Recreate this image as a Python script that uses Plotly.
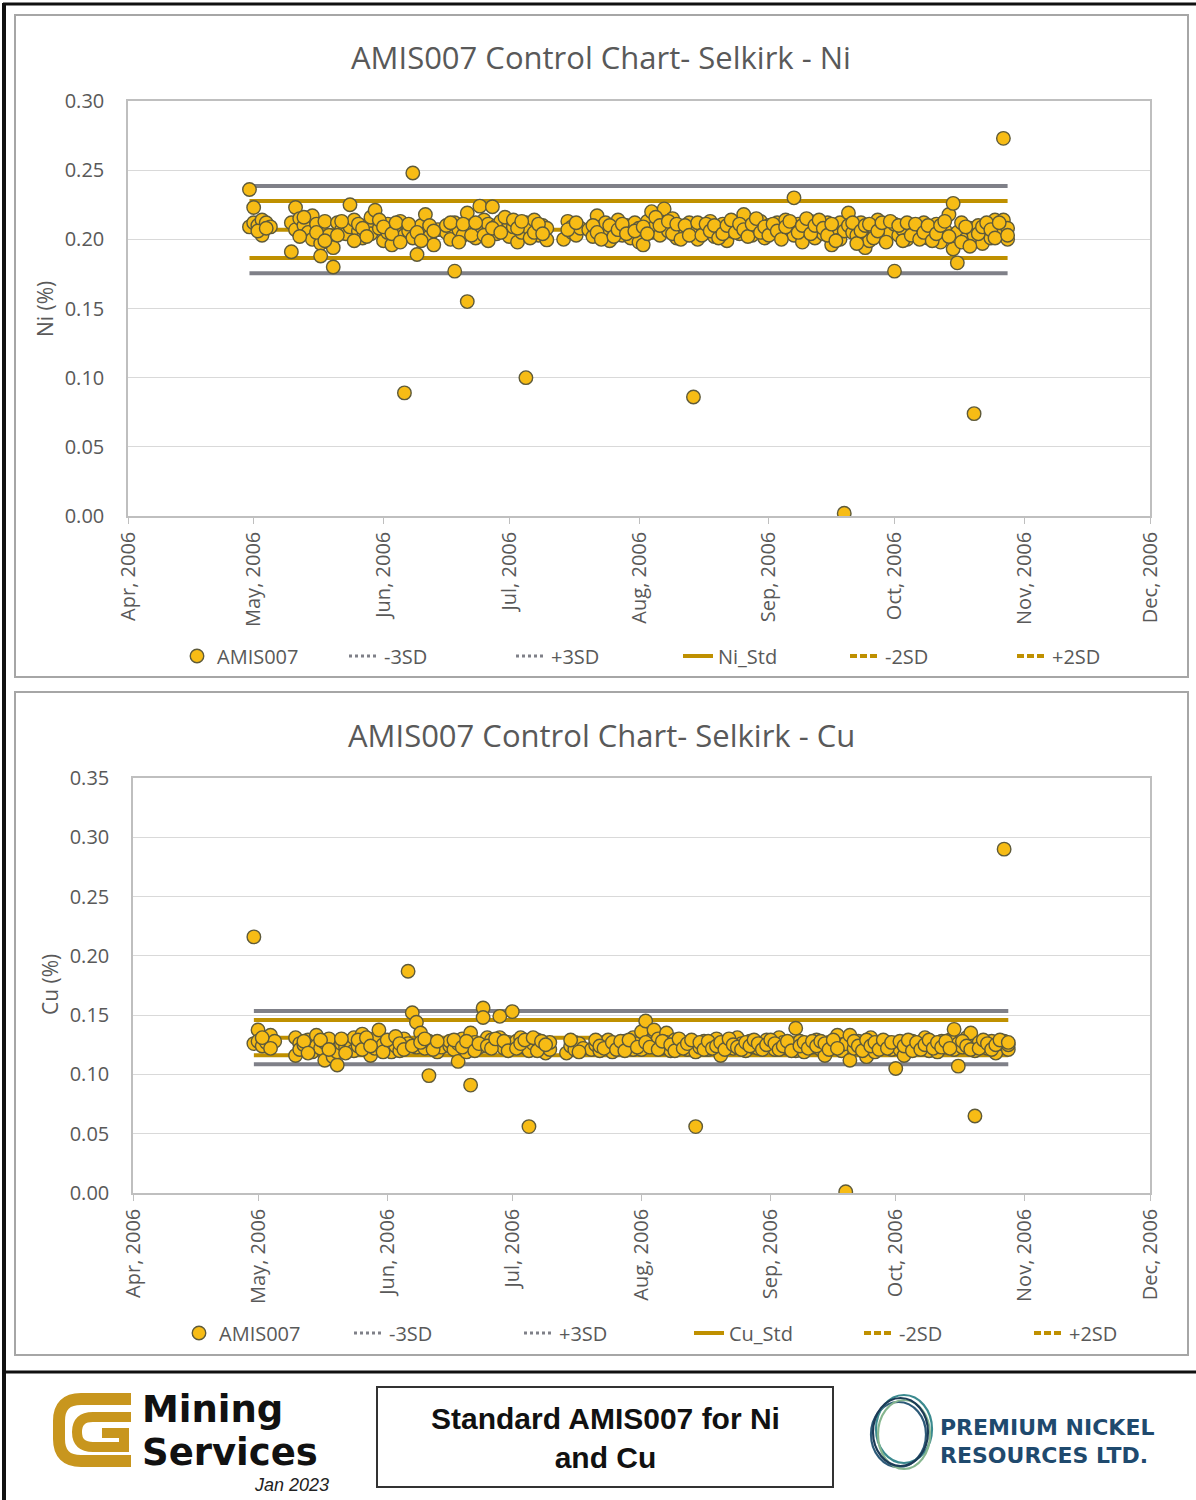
import plotly.graph_objects as go

FIG_W, FIG_H = 1196, 1500

# ---------------------------------------------------------------------------
# AMIS007 reference-standard results, Selkirk (2006)
# ---------------------------------------------------------------------------
sample_dates = [
    "2006-04-30", "2006-04-30",
    "2006-05-01", "2006-05-01", "2006-05-02", "2006-05-03", "2006-05-03", "2006-05-04", "2006-05-05",
    "2006-05-10", "2006-05-10", "2006-05-11", "2006-05-11", "2006-05-12", "2006-05-13", "2006-05-14",
    "2006-05-15", "2006-05-15", "2006-05-16", "2006-05-17", "2006-05-17", "2006-05-18", "2006-05-19",
    "2006-05-20", "2006-05-20", "2006-05-21", "2006-05-22", "2006-05-23", "2006-05-24", "2006-05-24",
    "2006-05-25", "2006-05-26", "2006-05-27", "2006-05-28", "2006-05-29", "2006-05-29", "2006-05-30",
    "2006-05-31",
    "2006-06-01", "2006-06-02", "2006-06-02", "2006-06-03", "2006-06-04", "2006-06-05", "2006-06-06",
    "2006-06-06", "2006-06-07", "2006-06-08", "2006-06-08", "2006-06-09", "2006-06-10", "2006-06-11",
    "2006-06-11", "2006-06-12", "2006-06-13", "2006-06-14",
    "2006-06-16", "2006-06-16", "2006-06-17", "2006-06-18", "2006-06-18", "2006-06-19", "2006-06-20",
    "2006-06-21", "2006-06-21", "2006-06-22", "2006-06-23", "2006-06-24", "2006-06-24", "2006-06-25",
    "2006-06-26", "2006-06-27", "2006-06-28", "2006-06-28", "2006-06-29", "2006-06-30",
    "2006-07-01", "2006-07-01", "2006-07-02", "2006-07-03", "2006-07-04", "2006-07-05", "2006-07-05",
    "2006-07-06", "2006-07-07", "2006-07-08", "2006-07-09", "2006-07-10", "2006-07-10",
    "2006-07-14", "2006-07-15", "2006-07-16", "2006-07-16", "2006-07-17", "2006-07-18",
    "2006-07-20", "2006-07-21", "2006-07-22", "2006-07-23", "2006-07-24", "2006-07-24", "2006-07-25",
    "2006-07-26", "2006-07-27", "2006-07-28", "2006-07-29", "2006-07-30", "2006-07-30", "2006-07-31",
    "2006-08-01", "2006-08-01", "2006-08-02", "2006-08-03", "2006-08-04", "2006-08-04", "2006-08-05",
    "2006-08-06", "2006-08-07", "2006-08-07", "2006-08-08", "2006-08-09", "2006-08-10", "2006-08-11",
    "2006-08-12", "2006-08-13", "2006-08-14", "2006-08-14", "2006-08-15", "2006-08-16", "2006-08-17",
    "2006-08-18", "2006-08-19", "2006-08-20", "2006-08-21", "2006-08-22", "2006-08-23", "2006-08-24",
    "2006-08-25", "2006-08-26", "2006-08-27", "2006-08-28", "2006-08-29", "2006-08-30", "2006-08-31",
    "2006-09-01", "2006-09-02", "2006-09-03", "2006-09-04", "2006-09-05", "2006-09-06", "2006-09-07",
    "2006-09-07", "2006-09-08", "2006-09-09", "2006-09-10", "2006-09-11", "2006-09-12", "2006-09-13",
    "2006-09-14", "2006-09-15", "2006-09-16", "2006-09-17", "2006-09-18", "2006-09-18", "2006-09-19",
    "2006-09-19", "2006-09-20", "2006-09-20", "2006-09-21", "2006-09-22", "2006-09-23", "2006-09-24",
    "2006-09-25", "2006-09-26", "2006-09-27", "2006-09-28", "2006-09-29", "2006-09-30",
    "2006-10-01", "2006-10-01", "2006-10-02", "2006-10-03", "2006-10-04", "2006-10-05", "2006-10-06",
    "2006-10-07", "2006-10-08", "2006-10-09", "2006-10-10", "2006-10-11", "2006-10-12", "2006-10-13",
    "2006-10-14", "2006-10-15", "2006-10-15", "2006-10-16", "2006-10-16", "2006-10-17", "2006-10-18",
    "2006-10-19", "2006-10-20", "2006-10-20", "2006-10-21", "2006-10-22", "2006-10-23", "2006-10-24",
    "2006-10-25", "2006-10-26", "2006-10-27", "2006-10-27", "2006-10-28", "2006-10-28",
    # second batch
    "2006-05-02", "2006-05-04", "2006-05-12", "2006-05-13", "2006-05-16", "2006-05-18", "2006-05-21",
    "2006-05-22", "2006-05-25", "2006-05-26", "2006-05-27", "2006-05-28", "2006-05-31",
    "2006-06-01", "2006-06-03", "2006-06-04", "2006-06-05", "2006-06-07", "2006-06-09", "2006-06-10",
    "2006-06-12", "2006-06-13", "2006-06-17", "2006-06-19", "2006-06-20", "2006-06-22", "2006-06-23",
    "2006-06-25", "2006-06-26", "2006-06-27", "2006-06-29", "2006-06-30",
    "2006-07-02", "2006-07-03", "2006-07-04", "2006-07-06", "2006-07-07", "2006-07-08", "2006-07-09",
    "2006-07-15", "2006-07-17", "2006-07-21", "2006-07-22", "2006-07-23", "2006-07-25", "2006-07-26",
    "2006-07-27", "2006-07-28", "2006-07-29", "2006-07-31",
    "2006-08-02", "2006-08-03", "2006-08-05", "2006-08-06", "2006-08-08", "2006-08-09", "2006-08-10",
    "2006-08-11", "2006-08-12", "2006-08-13", "2006-08-15", "2006-08-16", "2006-08-17", "2006-08-18",
    "2006-08-19", "2006-08-20", "2006-08-21", "2006-08-22", "2006-08-23", "2006-08-24", "2006-08-25",
    "2006-08-26", "2006-08-27", "2006-08-28", "2006-08-29", "2006-08-30", "2006-08-31",
    "2006-09-01", "2006-09-02", "2006-09-03", "2006-09-04", "2006-09-05", "2006-09-06", "2006-09-08",
    "2006-09-09", "2006-09-10", "2006-09-11", "2006-09-12", "2006-09-13", "2006-09-14", "2006-09-15",
    "2006-09-16", "2006-09-17", "2006-09-21", "2006-09-22", "2006-09-23", "2006-09-24", "2006-09-25",
    "2006-09-26", "2006-09-27", "2006-09-28", "2006-09-29", "2006-09-30",
    "2006-10-02", "2006-10-03", "2006-10-04", "2006-10-05", "2006-10-06", "2006-10-07", "2006-10-08",
    "2006-10-09", "2006-10-10", "2006-10-11", "2006-10-12", "2006-10-13", "2006-10-14", "2006-10-17",
    "2006-10-18", "2006-10-19", "2006-10-21", "2006-10-22", "2006-10-23", "2006-10-24", "2006-10-25",
    "2006-10-26", "2006-10-28",
]

ni_pct = [
    0.236, 0.209,
    0.223, 0.212, 0.210, 0.214, 0.203, 0.212, 0.209,
    0.191, 0.212, 0.223, 0.207, 0.215, 0.210, 0.205,
    0.217, 0.200, 0.211, 0.197, 0.188, 0.213, 0.203,
    0.194, 0.180, 0.212, 0.207, 0.204, 0.225, 0.209,
    0.214, 0.206, 0.201, 0.210, 0.216, 0.204, 0.221,
    0.208,
    0.199, 0.211, 0.205, 0.196, 0.207, 0.213, 0.089,
    0.203, 0.206, 0.248, 0.201, 0.189, 0.210, 0.218,
    0.204, 0.202, 0.196, 0.207,
    0.205, 0.210, 0.200, 0.177, 0.212, 0.207, 0.203,
    0.155, 0.219, 0.209, 0.201, 0.224, 0.206, 0.214,
    0.211, 0.2235, 0.210, 0.204, 0.213, 0.206,
    0.211, 0.202, 0.209, 0.198, 0.205, 0.100, 0.212,
    0.207, 0.214, 0.203, 0.210, 0.1996, 0.208,
    0.200, 0.213, 0.205, 0.209, 0.203, 0.208,
    0.207, 0.202, 0.217, 0.209, 0.204, 0.212, 0.199,
    0.208, 0.214, 0.203, 0.210, 0.206, 0.201, 0.212,
    0.208, 0.198, 0.196, 0.213, 0.220, 0.205, 0.210,
    0.203, 0.222, 0.211, 0.206, 0.215, 0.201, 0.209,
    0.204, 0.212, 0.086, 0.207, 0.200, 0.210, 0.205,
    0.213, 0.202, 0.208, 0.211, 0.199, 0.206, 0.212,
    0.204, 0.218, 0.209, 0.203, 0.207, 0.213, 0.201,
    0.210, 0.205, 0.212, 0.208, 0.214, 0.206, 0.230,
    0.203, 0.211, 0.198, 0.207, 0.213, 0.201, 0.209,
    0.204, 0.212, 0.196, 0.208, 0.212, 0.200, 0.002,
    0.206, 0.219, 0.210, 0.205, 0.203, 0.212, 0.194,
    0.199, 0.208, 0.214, 0.202, 0.209, 0.205,
    0.177, 0.211, 0.203, 0.207, 0.200, 0.210, 0.204,
    0.208, 0.212, 0.201, 0.206, 0.211, 0.198, 0.207,
    0.218, 0.226, 0.193, 0.183, 0.205, 0.212, 0.200,
    0.208, 0.074, 0.203, 0.210, 0.197, 0.206, 0.201,
    0.214, 0.204, 0.273, 0.214, 0.200, 0.208,
    # second batch
    0.206, 0.208, 0.202, 0.216, 0.205, 0.199, 0.203,
    0.213, 0.199, 0.211, 0.208, 0.202, 0.214,
    0.209, 0.204, 0.212, 0.198, 0.211, 0.205, 0.199,
    0.210, 0.206, 0.212, 0.198, 0.211, 0.203, 0.212,
    0.203, 0.199, 0.208, 0.205, 0.216,
    0.214, 0.208, 0.213, 0.201, 0.205, 0.211, 0.204,
    0.207, 0.212, 0.210, 0.205, 0.200, 0.210, 0.202,
    0.207, 0.211, 0.204, 0.206,
    0.209, 0.204, 0.216, 0.210, 0.213, 0.204, 0.211,
    0.200, 0.210, 0.203, 0.212, 0.203, 0.211, 0.206,
    0.210, 0.201, 0.204, 0.210, 0.214, 0.205, 0.211,
    0.207, 0.202, 0.211, 0.215, 0.205, 0.209,
    0.203, 0.211, 0.206, 0.200, 0.209, 0.213, 0.205,
    0.210, 0.215, 0.204, 0.210, 0.214, 0.208, 0.203,
    0.211, 0.199, 0.212, 0.197, 0.206, 0.210, 0.211,
    0.201, 0.206, 0.212, 0.198, 0.213,
    0.210, 0.199, 0.212, 0.203, 0.211, 0.200, 0.205,
    0.210, 0.199, 0.204, 0.210, 0.213, 0.202, 0.198,
    0.209, 0.195, 0.204, 0.209, 0.212, 0.207, 0.201,
    0.212, 0.203,
]

cu_pct = [
    0.216, 0.126,
    0.1375, 0.128, 0.124, 0.130, 0.127, 0.133, 0.128,
    0.116, 0.131, 0.126, 0.121, 0.125, 0.129, 0.119,
    0.133, 0.124, 0.122, 0.127, 0.112, 0.130, 0.115,
    0.108, 0.119, 0.126, 0.123, 0.128, 0.131, 0.120,
    0.124, 0.134, 0.127, 0.116, 0.130, 0.122, 0.1375,
    0.125,
    0.121, 0.127, 0.119, 0.124, 0.120, 0.130, 0.187,
    0.126, 0.152, 0.144, 0.123, 0.135, 0.122, 0.099,
    0.128, 0.125, 0.119, 0.123,
    0.124, 0.128, 0.121, 0.111, 0.126, 0.130, 0.119,
    0.091, 0.135, 0.127, 0.123, 0.156, 0.148, 0.131,
    0.129, 0.125, 0.149, 0.131, 0.122, 0.127,
    0.153, 0.125, 0.128, 0.131, 0.123, 0.056, 0.120,
    0.126, 0.129, 0.124, 0.118, 0.121, 0.127,
    0.118, 0.124, 0.127, 0.121, 0.126, 0.122,
    0.121, 0.125, 0.120, 0.127, 0.123, 0.129, 0.119,
    0.126, 0.122, 0.128, 0.124, 0.131, 0.121, 0.126,
    0.136, 0.121, 0.145, 0.128, 0.1375, 0.124, 0.130,
    0.122, 0.135, 0.127, 0.120, 0.129, 0.124, 0.127,
    0.121, 0.126, 0.056, 0.119, 0.123, 0.128, 0.121,
    0.125, 0.130, 0.116, 0.124, 0.127, 0.122, 0.131,
    0.126, 0.120, 0.128, 0.123, 0.122, 0.126, 0.129,
    0.124, 0.121, 0.131, 0.127, 0.122, 0.125, 0.139,
    0.120, 0.128, 0.119, 0.126, 0.123, 0.129, 0.121,
    0.116, 0.127, 0.124, 0.133, 0.120, 0.125, 0.001,
    0.126, 0.112, 0.133, 0.122, 0.128, 0.124, 0.115,
    0.131, 0.119, 0.126, 0.123, 0.127, 0.121,
    0.105, 0.125, 0.121, 0.116, 0.124, 0.128, 0.122,
    0.126, 0.131, 0.120, 0.125, 0.119, 0.128, 0.123,
    0.129, 0.138, 0.121, 0.107, 0.126, 0.123, 0.131,
    0.135, 0.065, 0.120, 0.127, 0.124, 0.122, 0.128,
    0.118, 0.126, 0.290, 0.128, 0.121, 0.125,
    # second batch
    0.131, 0.122, 0.128, 0.118, 0.129, 0.121, 0.130,
    0.118, 0.129, 0.121, 0.131, 0.124, 0.119,
    0.129, 0.132, 0.126, 0.121, 0.124, 0.127, 0.130,
    0.121, 0.128, 0.129, 0.123, 0.128, 0.120, 0.126,
    0.124, 0.122, 0.130, 0.128, 0.120,
    0.122, 0.126, 0.129, 0.131, 0.120, 0.128, 0.125,
    0.129, 0.119, 0.129, 0.124, 0.122, 0.127, 0.121,
    0.128, 0.120, 0.129, 0.123,
    0.127, 0.123, 0.121, 0.128, 0.125, 0.120, 0.130,
    0.122, 0.126, 0.129, 0.127, 0.121, 0.128, 0.122,
    0.124, 0.127, 0.121, 0.130, 0.125, 0.123, 0.121,
    0.127, 0.124, 0.129, 0.126, 0.121, 0.125,
    0.129, 0.126, 0.121, 0.124, 0.128, 0.120, 0.124,
    0.127, 0.122, 0.128, 0.124, 0.128, 0.126, 0.121,
    0.129, 0.122, 0.128, 0.124, 0.120, 0.129, 0.124,
    0.127, 0.121, 0.129, 0.122, 0.127,
    0.128, 0.124, 0.129, 0.120, 0.127, 0.121, 0.125,
    0.129, 0.122, 0.127, 0.123, 0.128, 0.122, 0.128,
    0.124, 0.121, 0.122, 0.129, 0.126, 0.121, 0.125,
    0.129, 0.127,
]

assert len(sample_dates) == len(ni_pct) == len(cu_pct)

# Control limits (certified value and +/- 2 and 3 standard deviations)
limit_keys = ["-3SD", "+3SD", "Std", "-2SD", "+2SD"]
ni_limits = [0.1755, 0.2385, 0.207, 0.1865, 0.2278]
cu_limits = [0.1086, 0.1535, 0.131, 0.1162, 0.1458]

month_ticks = ["2006-04-01", "2006-05-01", "2006-06-01", "2006-07-01", "2006-08-01",
               "2006-09-01", "2006-10-01", "2006-11-01", "2006-12-01"]

# ---------------------------------------------------------------------------
# styling
# ---------------------------------------------------------------------------
FONT = "Open Sans"
TEXT = "#595959"
GOLD_LINE = "#BF9000"
GRAY_LINE = "#7F8088"
POINT_FILL = "#F7BC15"
POINT_EDGE = "#5E5A3A"


def px_x(x):
    return x / FIG_W


def px_y(y):
    return 1 - y / FIG_H


def line_style(key):
    """Plot style and legend style of one control line."""
    if "3SD" in key:
        return dict(color=GRAY_LINE, width=4), dict(color=GRAY_LINE, width=3, dash="dot")
    if "2SD" in key:
        return dict(color=GOLD_LINE, width=4), dict(color=GOLD_LINE, width=4, dash="7px,3px")
    return dict(color=GOLD_LINE, width=4), dict(color=GOLD_LINE, width=4)


line_dates = sorted(set(sample_dates))

fig = go.Figure()


def add_chart(values, limits, std_name, xa, ya, legend):
    # control lines drawn across the sampled period
    for key, level in zip(limit_keys, limits):
        plot_line, _ = line_style(key)
        fig.add_trace(go.Scatter(
            x=line_dates, y=[level] * len(line_dates), mode="lines",
            line=plot_line, showlegend=False, hoverinfo="skip",
            xaxis=xa, yaxis=ya))
    # assay results
    fig.add_trace(go.Scatter(
        x=sample_dates, y=values, mode="markers", name="AMIS007",
        marker=dict(size=13.5, color=POINT_FILL, line=dict(color=POINT_EDGE, width=1.4)),
        xaxis=xa, yaxis=ya, legend=legend))
    # legend entries for the control lines
    for key in limit_keys:
        _, legend_line = line_style(key)
        name = std_name if key == "Std" else key
        fig.add_trace(go.Scatter(
            x=[None], y=[None], mode="lines", name=name, line=legend_line,
            xaxis=xa, yaxis=ya, legend=legend))


add_chart(ni_pct, ni_limits, "Ni_Std", "x", "y", "legend")
add_chart(cu_pct, cu_limits, "Cu_Std", "x2", "y2", "legend2")

xaxis_common = dict(
    type="date", range=["2006-04-01", "2006-12-01"], tickvals=month_ticks,
    tickformat="%b, %Y", tickangle=-90, ticks="outside", ticklen=6,
    tickcolor="#BFBFBF", showline=True, linecolor="#BFBFBF", linewidth=1.5,
    mirror=True, showgrid=False, zeroline=False, ticklabelstandoff=0,
    automargin=False, tickfont=dict(family=FONT, size=20, color=TEXT),
)
yaxis_common = dict(
    dtick=0.05, tickformat=".2f", showgrid=True, gridcolor="#D9D9D9", gridwidth=1,
    showline=True, linecolor="#BFBFBF", linewidth=1.5, mirror=True, ticks="",
    zeroline=False, ticklabelstandoff=18, automargin=False,
    tickfont=dict(family=FONT, size=20, color=TEXT),
)

legend_common = dict(
    orientation="h", xanchor="left", yanchor="middle", bgcolor="rgba(0,0,0,0)",
    font=dict(family=FONT, size=20, color=TEXT),
    entrywidthmode="pixels", itemclick=False, itemdoubleclick=False,
)

shapes = []
annotations = []

# chart panels
for top, bottom in [(15, 677), (692, 1355)]:
    shapes.append(dict(type="rect", xref="paper", yref="paper",
                       x0=px_x(15), x1=px_x(1188), y0=px_y(bottom), y1=px_y(top),
                       line=dict(color="#A6A6A6", width=2), layer="below"))

# page frame
for x0, y0, x1, y1, w in [(3, 4, 1196, 4, 3), (4, 3, 4, 1500, 4), (3, 1372, 1196, 1372, 3)]:
    shapes.append(dict(type="line", xref="paper", yref="paper",
                       x0=px_x(x0), y0=px_y(y0), x1=px_x(x1), y1=px_y(y1),
                       line=dict(color="#111111", width=w)))

# chart titles and axis titles
for text, cx, cy in [("AMIS007 Control Chart- Selkirk - Ni", 601, 57),
                     ("AMIS007 Control Chart- Selkirk - Cu", 601, 735)]:
    annotations.append(dict(text=text, x=px_x(cx), y=px_y(cy), xref="paper", yref="paper",
                            xanchor="center", yanchor="middle", showarrow=False,
                            font=dict(family=FONT, size=31, color=TEXT)))
for text, cx, cy in [("Ni (%)", 45, 309), ("Cu (%)", 50, 985)]:
    annotations.append(dict(text=text, x=px_x(cx), y=px_y(cy), xref="paper", yref="paper",
                            xanchor="center", yanchor="middle", showarrow=False, textangle=-90,
                            font=dict(family=FONT, size=21, color=TEXT)))

# footer: caption box
shapes.append(dict(type="rect", xref="paper", yref="paper",
                   x0=px_x(377), x1=px_x(833), y0=px_y(1487), y1=px_y(1387),
                   line=dict(color="#333333", width=2)))
annotations.append(dict(text="<b>Standard AMIS007 for Ni<br>and Cu</b>", x=px_x(605), y=px_y(1438),
                        xref="paper", yref="paper", xanchor="center", yanchor="middle",
                        showarrow=False, align="center",
                        font=dict(family="Liberation Sans", size=30, color="#111111")))

# footer: Mining Services mark
GOLD_MARK = "#C8961E"


def pixel_path(points):
    parts = []
    for cmd, coords in points:
        xy = " ".join(f"{px_x(coords[i]):.5f},{px_y(coords[i + 1]):.5f}" for i in range(0, len(coords), 2))
        parts.append(f"{cmd} {xy}")
    return " ".join(parts)


outer_c = pixel_path([("M", (131, 1399)), ("L", (81, 1399)), ("Q", (59, 1399, 59, 1421)),
                      ("L", (59, 1439)), ("Q", (59, 1461, 81, 1461)), ("L", (131, 1461))])
inner_g = pixel_path([("M", (131, 1417)), ("L", (93, 1417)), ("Q", (77, 1417, 77, 1432)),
                      ("Q", (77, 1447, 93, 1447)), ("L", (124, 1447)), ("L", (124, 1433)),
                      ("L", (102, 1433))])
shapes.append(dict(type="path", path=outer_c, xref="paper", yref="paper",
                   line=dict(color=GOLD_MARK, width=12)))
shapes.append(dict(type="path", path=inner_g, xref="paper", yref="paper",
                   line=dict(color=GOLD_MARK, width=10)))
for text, cy in [("Mining", 1409), ("Services", 1452)]:
    annotations.append(dict(text=f"<b>{text}</b>", x=px_x(140), y=px_y(cy), xref="paper", yref="paper",
                            xanchor="left", yanchor="middle", showarrow=False,
                            font=dict(family="DejaVu Sans", size=37, color="#111111")))
annotations.append(dict(text="<i>Jan 2023</i>", x=px_x(331), y=px_y(1485), xref="paper", yref="paper",
                        xanchor="right", yanchor="middle", showarrow=False,
                        font=dict(family="Liberation Sans", size=18, color="#222222")))

# footer: Premium Nickel mark
for (x0, y0, x1, y1), col in [((871, 1402, 926, 1467), "#2D5A78"),
                              ((876, 1395, 932, 1463), "#3B8A8F"),
                              ((878, 1400, 930, 1469), "#86B68F"),
                              ((873, 1398, 928, 1466), "#1C3B57")]:
    shapes.append(dict(type="circle", xref="paper", yref="paper",
                       x0=px_x(x0), x1=px_x(x1), y0=px_y(y1), y1=px_y(y0),
                       line=dict(color=col, width=2.2)))
for text, cy in [("PREMIUM NICKEL", 1427), ("RESOURCES LTD.", 1455)]:
    annotations.append(dict(text=f"<b>{text}</b>", x=px_x(938), y=px_y(cy), xref="paper", yref="paper",
                            xanchor="left", yanchor="middle", showarrow=False,
                            font=dict(family="DejaVu Sans", size=22, color="#1F4A6E")))

fig.update_layout(
    width=FIG_W, height=FIG_H, autosize=False,
    margin=dict(l=0, r=0, t=0, b=0, pad=0, autoexpand=False),
    paper_bgcolor="white", plot_bgcolor="white",
    font=dict(family=FONT, color=TEXT),
    xaxis=dict(xaxis_common, domain=[px_x(128), px_x(1150)], anchor="y"),
    yaxis=dict(yaxis_common, domain=[px_y(516), px_y(101)], range=[0, 0.30], anchor="x"),
    xaxis2=dict(xaxis_common, domain=[px_x(133), px_x(1150)], anchor="y2"),
    yaxis2=dict(yaxis_common, domain=[px_y(1193), px_y(778)], range=[0, 0.35], anchor="x2"),
    legend=dict(legend_common, x=px_x(177), y=px_y(656), entrywidth=122),
    legend2=dict(legend_common, x=px_x(179), y=px_y(1333), entrywidth=125),
    shapes=shapes,
    annotations=annotations,
    showlegend=True,
)

fig.write_html(
    "out.html",
    config={"responsive": False, "displayModeBar": False},
    post_script="document.body.style.margin='0';document.body.style.padding='0';",
)
